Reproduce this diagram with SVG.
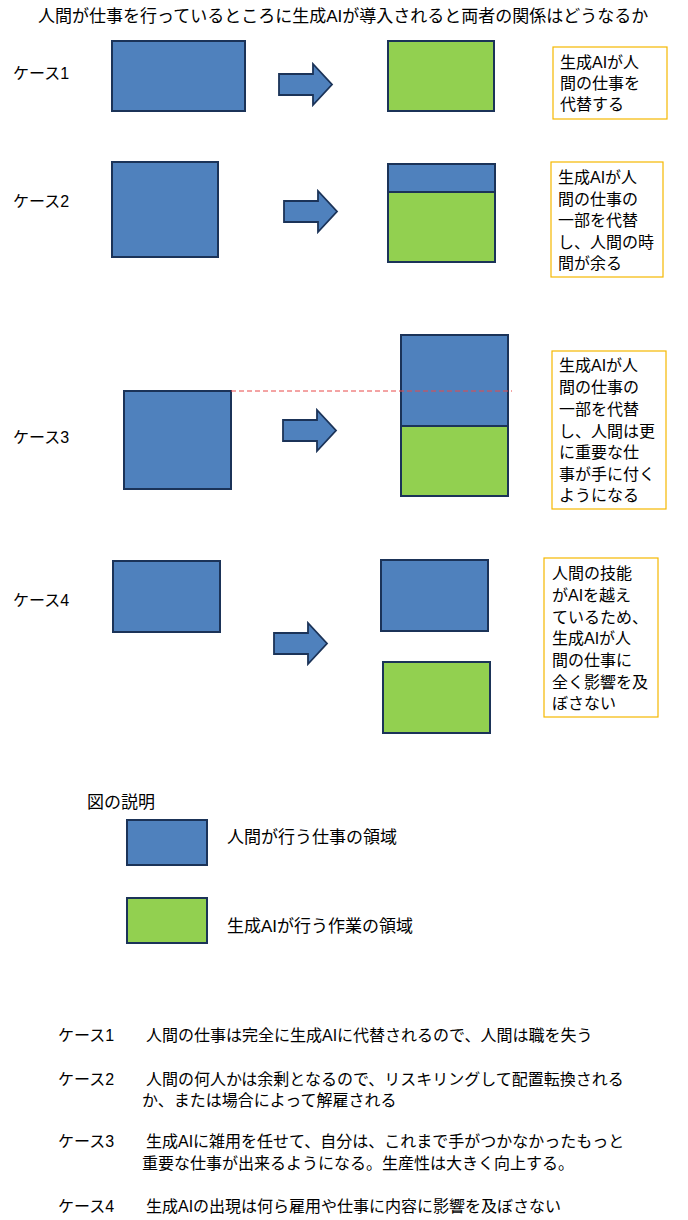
<svg xmlns="http://www.w3.org/2000/svg" xmlns:xlink="http://www.w3.org/1999/xlink" width="688" height="1220" viewBox="0 0 688 1220">
<style>
text{font-family:"Liberation Sans","Noto Sans CJK JP",sans-serif;fill:#000;}
.t{font-size:17px;}
.lbl{font-size:16px;}
.note{font-size:16px;}
.bot{font-size:16px;}
.hum{fill:#4F81BD;stroke:#1B3358;stroke-width:2;}
.ai{fill:#92D050;stroke:#1B3358;stroke-width:2;}
.box{fill:#fff;stroke:#F5B800;stroke-width:1.2;}
.arr{fill:#4F81BD;stroke:#1B3358;stroke-width:1.8;stroke-linejoin:miter;}
</style>
<defs>
<path id="arrow" d="M0,10 H34 V0 L53,20.5 L34,41 V31 H0 Z"/>
</defs>
<rect width="688" height="1220" fill="#fff"/>
<text class="t" x="38" y="22">人間が仕事を行っているところに生成AIが導入されると両者の関係はどうなるか</text>

<g id="case1">
<text class="lbl" x="13" y="79">ケース1</text>
<rect class="hum" x="112" y="41" width="133" height="70"/>
<rect class="ai" x="388" y="41" width="106" height="70"/>
<rect class="box" x="553" y="47" width="114" height="72"/>
<text class="note" x="560" y="68">生成AIが人</text>
<text class="note" x="560" y="89">間の仕事を</text>
<text class="note" x="560" y="110">代替する</text>
</g>

<g id="case2">
<text class="lbl" x="13" y="207">ケース2</text>
<rect class="hum" x="112" y="162" width="106" height="95"/>
<rect class="hum" x="388" y="164" width="107" height="28"/>
<rect class="ai" x="388" y="192" width="107" height="70"/>
<rect class="box" x="551" y="162" width="112" height="115"/>
<text class="note" x="558" y="183">生成AIが人</text>
<text class="note" x="558" y="204.5">間の仕事の</text>
<text class="note" x="558" y="226">一部を代替</text>
<text class="note" x="558" y="247.5">し、人間の時</text>
<text class="note" x="558" y="269">間が余る</text>
</g>

<g id="case3">
<text class="lbl" x="13" y="443">ケース3</text>
<rect class="hum" x="124" y="391" width="107" height="98"/>
<rect class="hum" x="401" y="335" width="107" height="91"/>
<rect class="ai" x="401" y="426" width="107" height="70"/>
<rect class="box" x="552" y="351" width="114" height="158"/>
<text class="note" x="559" y="371">生成AIが人</text>
<text class="note" x="559" y="393">間の仕事の</text>
<text class="note" x="559" y="415">一部を代替</text>
<text class="note" x="559" y="437">し、人間は更</text>
<text class="note" x="559" y="458">に重要な仕</text>
<text class="note" x="559" y="480">事が手に付く</text>
<text class="note" x="559" y="501">ようになる</text>
</g>

<g id="case4">
<text class="lbl" x="13" y="606">ケース4</text>
<rect class="hum" x="113" y="561" width="107" height="71"/>
<rect class="hum" x="381" y="560" width="107" height="71"/>
<rect class="ai" x="383" y="662" width="107" height="71"/>
<rect class="box" x="544" y="558" width="114" height="159"/>
<text class="note" x="552" y="579">人間の技能</text>
<text class="note" x="552" y="601">がAIを越え</text>
<text class="note" x="552" y="623">ているため、</text>
<text class="note" x="552" y="644">生成AIが人</text>
<text class="note" x="552" y="666">間の仕事に</text>
<text class="note" x="552" y="688">全く影響を及</text>
<text class="note" x="552" y="709">ぼさない</text>
</g>

<g id="connectors">
<use href="#arrow" class="arr" transform="translate(279,64)"/>
<use href="#arrow" class="arr" transform="translate(284,191)"/>
<use href="#arrow" class="arr" transform="translate(283,410)"/>
<use href="#arrow" class="arr" transform="translate(274,623)"/>
<line x1="231" y1="391" x2="512" y2="391" stroke="#E84848" stroke-width="1" stroke-dasharray="5,3"/>
</g>

<g id="legend">
<text class="t" x="87" y="808">図の説明</text>
<rect class="hum" x="127" y="820" width="80" height="45"/>
<text class="t" x="227" y="843">人間が行う仕事の領域</text>
<rect class="ai" x="127" y="898" width="80" height="45"/>
<text class="t" x="227" y="932">生成AIが行う作業の領域</text>
</g>

<g id="summary">
<text class="bot" x="58" y="1041">ケース1</text>
<text class="bot" x="146" y="1041">人間の仕事は完全に生成AIに代替されるので、人間は職を失う</text>
<text class="bot" x="58" y="1085">ケース2</text>
<text class="bot" x="146" y="1085">人間の何人かは余剰となるので、リスキリングして配置転換される</text>
<text class="bot" x="142" y="1106">か、または場合によって解雇される</text>
<text class="bot" x="58" y="1147">ケース3</text>
<text class="bot" x="146" y="1147">生成AIに雑用を任せて、自分は、これまで手がつかなかったもっと</text>
<text class="bot" x="142" y="1169">重要な仕事が出来るようになる。生産性は大きく向上する。</text>
<text class="bot" x="58" y="1212">ケース4</text>
<text class="bot" x="146" y="1212">生成AIの出現は何ら雇用や仕事に内容に影響を及ぼさない</text>
</g>
</svg>
